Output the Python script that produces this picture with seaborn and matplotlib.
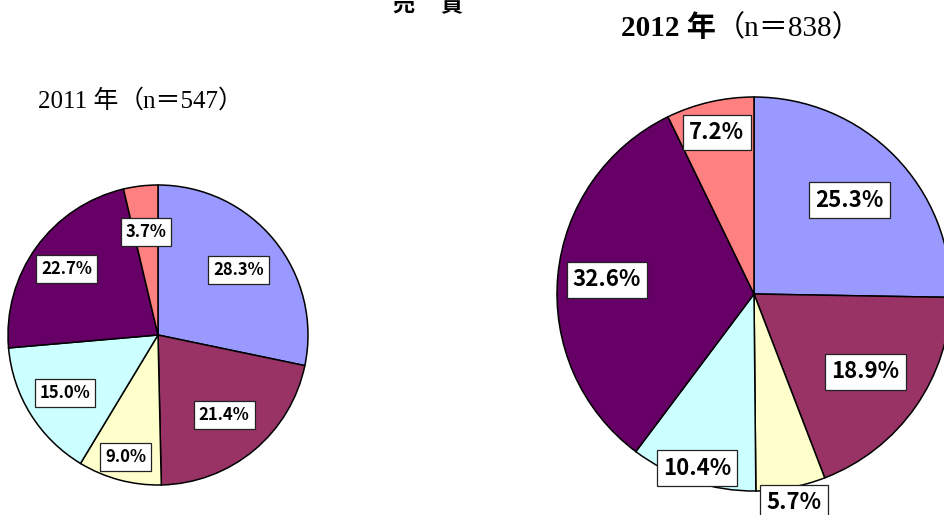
import numpy as np
import matplotlib
matplotlib.use("Agg")
import matplotlib.pyplot as plt
import seaborn as sns

# ---- data ----
categories = ["A", "B", "C", "D", "E", "F"]
values_2011 = [28.3, 21.4, 9.0, 15.0, 22.7, 3.7]
values_2012 = [25.3, 18.9, 5.7, 10.4, 32.6, 7.2]
title_2011_year = "2011 年"
title_2011_n = "（n＝547）"
title_2012_year = "2012 年"
title_2012_n = "（n＝838）"
header_chars = ["売", "買"]

# ---- style ----
sns.set_theme(style="white")
plt.rcParams["font.family"] = ["DejaVu Sans", "Noto Sans CJK JP"]
plt.rcParams["text.color"] = "black"
palette = sns.color_palette(["#9999FF", "#993366", "#FFFFCC", "#CCFFFF", "#660066", "#FF8080"])
serif = ["Liberation Serif", "Noto Sans CJK JP"]
label_family = ["Noto Sans CJK JP", "DejaVu Sans"]

W, H = 945, 515
fig = plt.figure(figsize=(W / 100, H / 100), dpi=100)
fig.patch.set_facecolor("white")


def make_ax(cx, cy, r):
    return fig.add_axes([(cx - r) / W, (H - cy - r) / H, 2 * r / W, 2 * r / H])


def draw_pie(ax, vals, dists, fsize, pad):
    wedges, _ = ax.pie(vals, colors=palette, startangle=90, counterclock=False,
                       radius=1.0,
                       wedgeprops=dict(edgecolor="black", linewidth=1.1))
    for w, v, d in zip(wedges, vals, dists):
        ang = np.deg2rad((w.theta1 + w.theta2) / 2)
        ax.text(d * np.cos(ang), d * np.sin(ang), f"{v:.1f}%",
                ha="center", va="center", fontsize=fsize,
                fontweight="bold", color="black", family=label_family,
                clip_on=False, zorder=5,
                bbox=dict(boxstyle=f"square,pad={pad}", facecolor="white",
                          edgecolor="#222222", linewidth=0.9))
    ax.set_xlim(-1, 1)
    ax.set_ylim(-1, 1)
    ax.set_aspect("equal")
    ax.axis("off")


ax1 = make_ax(158, 335, 150)
draw_pie(ax1, values_2011, [0.69, 0.69, 0.84, 0.73, 0.75, 0.69], 12, 0.3)

ax2 = make_ax(754, 294, 197)
draw_pie(ax2, values_2012, [0.68, 0.69, 1.08, 0.93, 0.75, 0.84], 16, 0.28)

# titles
t = fig.text(38 / W, 1 - 101 / H, title_2011_year, family=serif, fontsize=18,
             ha="left", va="center")
fig.canvas.draw()
bb = t.get_window_extent()
fig.text(bb.x1 / W, 1 - 101 / H, title_2011_n, family=serif, fontsize=18,
         ha="left", va="center")

t2 = fig.text(621 / W, 1 - 28 / H, title_2012_year, family=serif, fontsize=21,
              fontweight="bold", ha="left", va="center")
fig.canvas.draw()
bb2 = t2.get_window_extent()
fig.text(bb2.x1 / W, 1 - 28 / H, title_2012_n, family=serif, fontsize=21,
         ha="left", va="center")

# cut-off header (cropped at the top edge, as in the source)
for ch, x in zip(header_chars, [404, 451]):
    fig.text(x / W, 1 - 12 / H, ch, family=["Noto Sans CJK JP"], fontsize=16,
             fontweight="bold", ha="center", va="baseline")

fig.savefig("out.png", dpi=100, facecolor="white")
